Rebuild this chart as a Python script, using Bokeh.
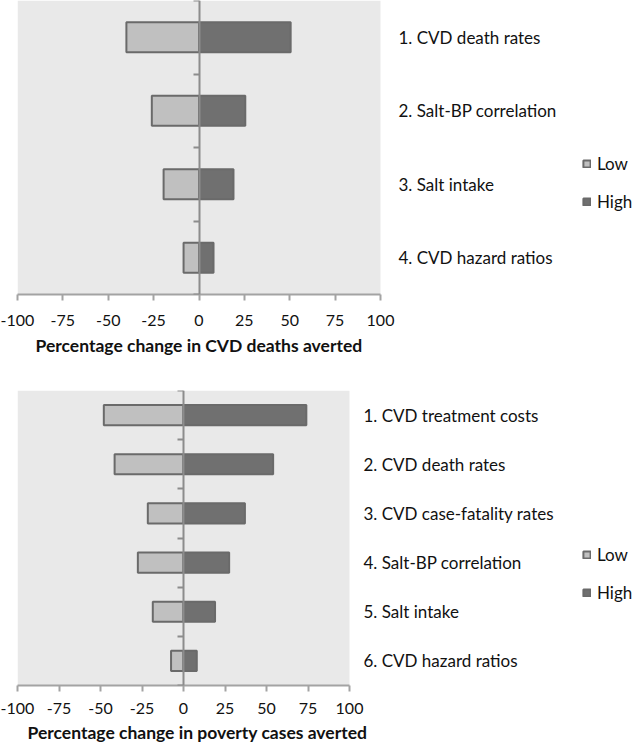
from bokeh.plotting import figure
from bokeh.models import (Range1d, FixedTicker, LinearAxis, Legend, LegendItem,
                          ColumnDataSource, CustomJSTickFormatter, BoxAnnotation,
                          Title)
from bokeh.core.properties import value
from bokeh.layouts import column
from bokeh.embed import file_html
from bokeh.resources import INLINE

# ---- data ----
top_labels = ["1. CVD death rates", "2. Salt-BP correlation", "3. Salt intake",
              "4. CVD hazard ratios"]
top_low = [-40, -26, -19.5, -8.5]
top_high = [50.5, 25.5, 19, 8]
top_title = "Percentage change in CVD deaths averted"

bot_labels = ["1. CVD treatment costs", "2. CVD death rates",
              "3. CVD case-fatality rates", "4. Salt-BP correlation",
              "5. Salt intake", "6. CVD hazard ratios"]
bot_low = [-48, -41.5, -21.5, -27.5, -18.5, -7.5]
bot_high = [74, 54, 37, 27.5, 19, 8]
bot_title = "Percentage change in poverty cases averted"

x_ticks = [-100, -75, -50, -25, 0, 25, 50, 75, 100]
x_tick_labels = ["-100", "-75", "-50", "-25", "0", "25", "50", "75", "100"]
series_names = ["Low", "High"]

FONT = "Lato"
LOW_FILL = "#C0C0C0"
HIGH_FILL = "#707070"
EDGE = "#6A6A6A"
BG = "#E9E9E9"
TXT = "#111111"

FIG_W = 633
LEFT_B = 17


def make_panel(labels, low, high, title, plot_w, frame_h, top_b, bottom_b,
               label_standoff, tick_standoff, title_standoff, title_offset,
               legend_loc):
    n = len(labels)
    centers = [n - i - 0.5 for i in range(n)]
    x0, x1 = x_ticks[0], x_ticks[-1]
    frame_w = FIG_W - LEFT_B
    x_end = x0 + (x1 - x0) * frame_w / plot_w
    p = figure(frame_width=frame_w, frame_height=frame_h,
               min_border_left=LEFT_B, min_border_right=0,
               min_border_top=top_b, min_border_bottom=bottom_b,
               x_range=Range1d(x0, x_end), y_range=Range1d(0, n),
               output_backend="svg", toolbar_location=None,
               x_axis_location=None, y_axis_location=None)
    p.background_fill_color = "white"
    p.border_fill_color = "white"
    p.outline_line_color = None
    p.xgrid.visible = False
    p.ygrid.visible = False

    p.add_layout(BoxAnnotation(left=x0, right=x1, fill_color=BG, fill_alpha=1,
                               line_color=None, level="underlay"))

    src = ColumnDataSource(dict(y=centers, low=low, high=high,
                                zero=[0] * n))
    r_low = p.hbar(y="y", left="low", right="zero", height=0.41, source=src,
                   fill_color=LOW_FILL, line_color=EDGE, line_width=2)
    r_high = p.hbar(y="y", left="zero", right="high", height=0.41, source=src,
                    fill_color=HIGH_FILL, line_color=EDGE, line_width=2)

    # category labels to the right of the plot area
    lab_src = ColumnDataSource(dict(x=[x1] * n, y=centers, text=labels))
    p.text(x="x", y="y", text="text", source=lab_src, x_offset=label_standoff,
           text_align="left", text_baseline="middle",
           text_font=value(FONT), text_font_size="17px", text_color=TXT)

    # bottom x axis
    xa = LinearAxis(ticker=FixedTicker(ticks=x_ticks), bounds=(x0, x1),
                    major_label_overrides=dict(zip(x_ticks, x_tick_labels)))
    xa.axis_line_color = "#A3A3A3"
    xa.axis_line_width = 2
    xa.major_tick_line_color = "#A3A3A3"
    xa.major_tick_line_width = 2
    xa.major_tick_out = 6
    xa.major_tick_in = 0
    xa.minor_tick_line_color = None
    xa.major_label_text_font = FONT
    xa.major_label_text_font_size = "16px"
    xa.major_label_text_color = TXT
    xa.major_label_standoff = tick_standoff
    p.add_layout(xa, "below")

    t = Title(text=title, align="left", offset=title_offset,
              standoff=title_standoff, text_font=FONT, text_font_style="bold",
              text_font_size="17.5px", text_color=TXT)
    p.add_layout(t, "below")

    # vertical axis through zero with tick marks between categories
    ya = LinearAxis(ticker=FixedTicker(ticks=list(range(0, n + 1))),
                    fixed_location=0,
                    formatter=CustomJSTickFormatter(code="return ''"))
    ya.axis_line_color = "#8C8C8C"
    ya.axis_line_width = 2
    ya.major_tick_line_color = "#8C8C8C"
    ya.major_tick_line_width = 2
    ya.major_tick_out = 6
    ya.major_tick_in = 0
    ya.minor_tick_line_color = None
    ya.major_label_standoff = 0
    p.add_layout(ya, "left")

    legend = Legend(items=[LegendItem(label=series_names[0], renderers=[r_low]),
                           LegendItem(label=series_names[1], renderers=[r_high])],
                    location=legend_loc)
    legend.padding = 0
    legend.margin = 0
    legend.border_line_color = None
    legend.background_fill_alpha = 0
    legend.glyph_width = 9
    legend.glyph_height = 9
    legend.label_standoff = 6
    legend.spacing = 17
    legend.label_height = 20
    legend.label_text_font = FONT
    legend.label_text_font_size = "17px"
    legend.label_text_color = TXT
    p.add_layout(legend, "center")
    return p


p1 = make_panel(top_labels, top_low, top_high, top_title,
                plot_w=363, frame_h=294, top_b=0, bottom_b=72,
                label_standoff=18, tick_standoff=14, title_standoff=9,
                title_offset=18, legend_loc=(565, 82))
p2 = make_panel(bot_labels, bot_low, bot_high, bot_title,
                plot_w=332, frame_h=295, top_b=24, bottom_b=64,
                label_standoff=14, tick_standoff=11, title_standoff=6,
                title_offset=10, legend_loc=(565, 82))

layout = column(p1, p2, spacing=0)
open("out.html", "w").write(file_html(layout, INLINE))
